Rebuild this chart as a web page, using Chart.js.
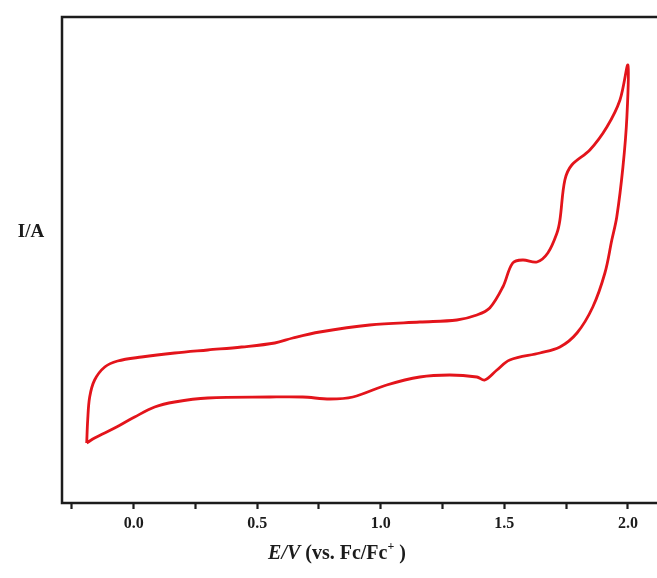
<!DOCTYPE html>
<html>
<head>
<meta charset="utf-8">
<script src="https://cdn.jsdelivr.net/npm/chart.js@4/dist/chart.umd.min.js"></script>
<style>
  html, body { margin: 0; padding: 0; background: #fff; overflow: hidden; }
  #wrap { width: 657px; height: 578px; overflow: hidden; }
</style>
</head>
<body>
<div id="wrap"><canvas id="cv" width="665" height="578"></canvas></div>
<script>
// cyclic voltammogram (current in arbitrary units)
const potential = [
  -0.190, -0.186, -0.178, -0.158, -0.117, -0.065, 0.032, 0.166, 0.300, 0.437,
  0.571, 0.644, 0.753, 0.955, 1.158, 1.308, 1.389, 1.441, 1.494, 1.534,
  1.575, 1.632, 1.676, 1.713, 1.725, 1.745, 1.773, 1.846, 1.915, 1.968, 2.000,
  1.996, 1.980, 1.955, 1.935, 1.907, 1.858, 1.794, 1.725, 1.644, 1.522,
  1.470, 1.421, 1.389, 1.279, 1.158, 1.024, 0.887, 0.794, 0.684, 0.551,
  0.300, 0.166, 0.085, 0.004, -0.077, -0.158, -0.190
];
const current = [
  60, 83, 106, 123, 136, 142, 146, 150, 153, 156,
  160, 165, 171, 178, 181, 183, 188, 195, 216, 240,
  243, 241, 250, 270, 283, 323, 338, 353, 376, 403, 438,
  386, 336, 286, 263, 230, 196, 170, 156, 150, 143,
  133, 123, 126, 128, 126, 118, 106, 104, 106, 106,
  105, 101, 96, 86, 75, 65, 60
];
const xTickLabels = ['0.0', '0.5', '1.0', '1.5', '2.0'];

const points = potential.map((v, i) => ({ x: v, y: current[i] }));

const framePlugin = {
  id: 'frame',
  afterDraw(chart) {
    const { ctx, chartArea: a } = chart;
    ctx.save();
    ctx.strokeStyle = '#1c1c1c';
    ctx.lineWidth = 2.5;
    ctx.strokeRect(a.left, a.top, a.right - a.left, a.bottom - a.top);

    ctx.fillStyle = '#1c1c1c';
    ctx.textBaseline = 'middle';
    ctx.textAlign = 'center';
    ctx.font = 'bold 19px "Liberation Serif", "Times New Roman", serif';
    ctx.fillText('I/A', 31, 232);

    // x axis title with mixed styles
    const parts = [
      { t: 'E/V', f: 'italic bold 20px "Liberation Serif", serif', dy: 0 },
      { t: ' (vs. Fc/Fc', f: 'bold 20px "Liberation Serif", serif', dy: 0 },
      { t: '+', f: 'bold 12px "Liberation Serif", serif', dy: -7 },
      { t: ' )', f: 'bold 20px "Liberation Serif", serif', dy: 0 }
    ];
    let total = 0;
    parts.forEach(p => { ctx.font = p.f; p.w = ctx.measureText(p.t).width; total += p.w; });
    let x = 337 - total / 2;
    ctx.textAlign = 'left';
    parts.forEach(p => {
      ctx.font = p.f;
      ctx.fillText(p.t, x, 554 + p.dy);
      x += p.w;
    });
    ctx.restore();
  }
};

new Chart(document.getElementById('cv'), {
  type: 'scatter',
  data: {
    datasets: [{
      data: points,
      showLine: true,
      borderColor: '#e3141b',
      borderWidth: 2.8,
      pointRadius: 0,
      tension: 0.35,
      fill: false
    }]
  },
  options: {
    responsive: false,
    animation: false,
    layout: { padding: { top: 17, left: 62, right: 5, bottom: 0 } },
    plugins: { legend: { display: false }, tooltip: { enabled: false } },
    scales: {
      x: {
        type: 'linear',
        min: -0.29,
        max: 2.13,
        border: { display: false },
        grid: { display: true, drawOnChartArea: false, drawTicks: true, tickLength: 6, tickWidth: 2.2, color: '#1c1c1c' },
        ticks: {
          stepSize: 0.25,
          includeBounds: false,
          autoSkip: false,
          maxRotation: 0,
          padding: 5,
          color: '#1c1c1c',
          font: { family: '"Liberation Serif", "Times New Roman", serif', size: 16, weight: 'bold' },
          callback: (v) => {
            const i = Math.round(v / 0.5);
            return (Math.abs(v - i * 0.5) < 1e-6 && i >= 0 && i < xTickLabels.length) ? xTickLabels[i] : '';
          }
        },
        afterFit: (s) => { s.height = 75; }
      },
      y: {
        display: false,
        min: 0,
        max: 486
      }
    }
  },
  plugins: [framePlugin]
});
</script>
</body>
</html>
